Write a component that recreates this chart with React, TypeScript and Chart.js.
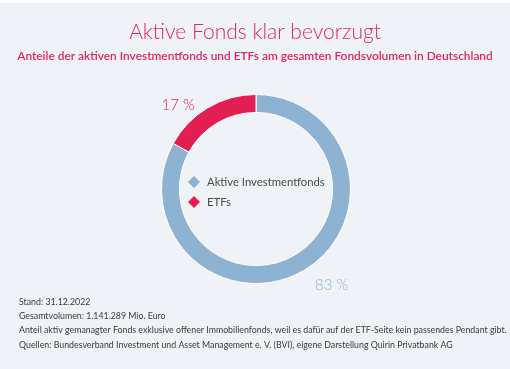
import React, { useEffect, useRef } from "react";
import { Chart, registerables } from "chart.js";

Chart.register(...registerables);

const categories = ["Aktive Investmentfonds", "ETFs"];
const shares = [83, 17];
const valueLabels = ["83 %", "17 %"];
const titleText = "Aktive Fonds klar bevorzugt";
const subtitleText = "Anteile der aktiven Investmentfonds und ETFs am gesamten Fondsvolumen in Deutschland";
const footnotes = [
  "Stand: 31.12.2022",
  "Gesamtvolumen: 1.141.289 Mio. Euro",
  "Anteil aktiv gemanagter Fonds exklusive offener Immobilienfonds, weil es dafür auf der ETF-Seite kein passendes Pendant gibt.",
  "Quellen: Bundesverband Investment und Asset Management e. V. (BVI), eigene Darstellung Quirin Privatbank AG",
];

const COLORS = ["#8eb2d2", "#e31e52"];
const RED = "#e3245a";
const BG = "#eff3f8";
const FONT = "Lato, 'Open Sans', sans-serif";

const decorPlugin = {
  id: "decor",
  beforeDraw(chart: any) {
    const { ctx, width, height } = chart;
    ctx.save();
    ctx.fillStyle = "#ffffff";
    ctx.fillRect(0, 0, width, height);
    ctx.fillStyle = BG;
    ctx.fillRect(0, 3, width, height - 3);
    ctx.restore();
  },
  afterDraw(chart: any) {
    const { ctx } = chart;
    ctx.save();
    ctx.textBaseline = "middle";
    // Title
    ctx.textAlign = "center";
    ctx.fillStyle = RED;
    ctx.font = `300 21px ${FONT}`;
    ctx.fillText(titleText, 255, 32);
    ctx.font = `600 11.9px ${FONT}`;
    ctx.fillText(subtitleText, 255, 56);

    // Value labels around arcs
    const meta = chart.getDatasetMeta(0);
    const labelAngles = [0.475, 0.3]; // fraction along each arc
    const labelGap = [28, 20];
    meta.data.forEach((arc: any, i: number) => {
      const { x, y, startAngle, endAngle, outerRadius } = arc.getProps(
        ["x", "y", "startAngle", "endAngle", "outerRadius"],
        true
      );
      const a = startAngle + (endAngle - startAngle) * labelAngles[i];
      const r = outerRadius + labelGap[i];
      ctx.fillStyle = COLORS[i];
      ctx.font = `300 15px ${FONT}`;
      ctx.textAlign = "center";
      ctx.fillText(valueLabels[i], x + Math.cos(a) * r, y + Math.sin(a) * r);
    });

    // Center legend with diamonds
    const cx = meta.data[0].x;
    const cy = meta.data[0].y;
    ctx.font = `400 11.3px ${FONT}`;
    ctx.textAlign = "left";
    categories.forEach((c, i) => {
      const ly = cy - 7 + i * 20;
      const mx = cx - 62;
      ctx.fillStyle = COLORS[i];
      ctx.beginPath();
      ctx.moveTo(mx, ly - 6);
      ctx.lineTo(mx + 6, ly);
      ctx.lineTo(mx, ly + 6);
      ctx.lineTo(mx - 6, ly);
      ctx.closePath();
      ctx.fill();
      ctx.fillStyle = "#4a4a4a";
      ctx.fillText(c, mx + 13, ly);
    });

    // Footnotes
    ctx.fillStyle = "#3a3a3a";
    ctx.font = `400 8.8px ${FONT}`;
    footnotes.forEach((f, i) => {
      ctx.fillText(f, 19, 302 + i * 14.3);
    });
    ctx.restore();
  },
};

export default function App() {
  const ref = useRef<HTMLCanvasElement>(null);
  useEffect(() => {
    if (!ref.current) return;
    const chart = new Chart(ref.current, {
      type: "doughnut",
      data: {
        labels: categories,
        datasets: [
          {
            data: shares,
            backgroundColor: COLORS,
            borderColor: "#ffffff",
            borderWidth: 1,
          },
        ],
      },
      options: {
        animation: false,
        responsive: false,
        cutout: "81%",
        layout: { padding: { top: 94, bottom: 85, left: 161, right: 159 } },
        plugins: {
          legend: { display: false },
          tooltip: { enabled: false },
          title: { display: false },
        },
      },
      plugins: [decorPlugin],
    });
    return () => chart.destroy();
  }, []);
  return (
    <div style={{ position: "fixed", left: 0, top: 0, width: 510, height: 369 }}>
      <canvas ref={ref} width={510} height={369} style={{ width: 510, height: 369 }} />
    </div>
  );
}
